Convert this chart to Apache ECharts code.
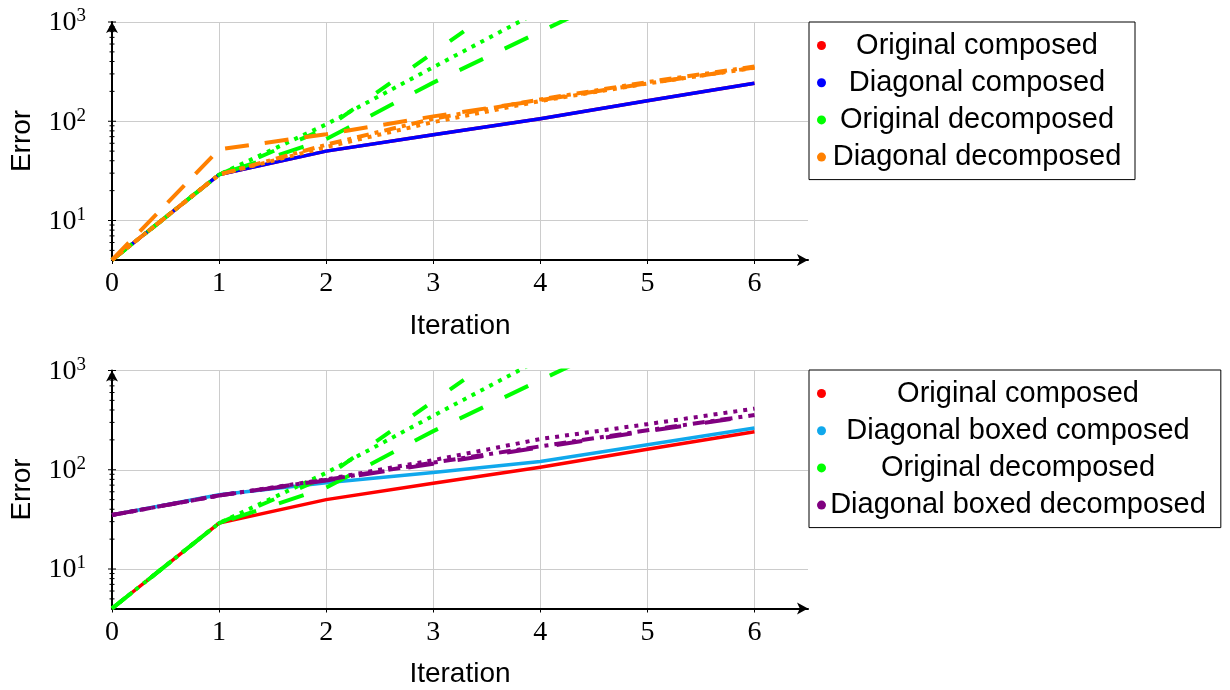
<!DOCTYPE html>
<html>
<head>
<meta charset="utf-8">
<script src="https://cdn.jsdelivr.net/npm/echarts@6/dist/echarts.min.js"></script>
<style>
  html, body { margin: 0; padding: 0; background: #fff; }
  #chart { width: 1230px; height: 690px; }
</style>
</head>
<body>
<div id="chart"></div>
<script>
// Iterations and tick values
const iterations = [0, 1, 2, 3, 4, 5, 6];
const xTickValues = [0, 1, 2, 3, 4, 5, 6];
const majorErrorTicks = [10, 100, 1000];
const minorErrorTicks = [5, 6, 7, 8, 9, 20, 30, 40, 50, 60, 70, 80, 90, 200, 300, 400, 500, 600, 700, 800, 900];

// Error per iteration
const originalComposed = [4, 29, 50, 73, 106, 161, 242];
const diagonalComposed = [4, 29, 50, 73, 106, 161, 242];
const originalDecomposedDashed = [4, 29, 85, 490, 2800];
const originalDecomposedDotted = [4, 29, 93, 350, 1300];
const originalDecomposedLongDashed = [4, 29, 66, 245, 800, 2600];
const diagonalDecomposedLongDashed = [4, 52, 74, 112, 163, 241, 347];
const diagonalDecomposedDotted = [4, 29, 55, 98, 160, 240, 345];
const diagonalDecomposedDashDot = [4, 29, 58, 106, 166, 248, 356];
const diagonalBoxedComposed = [35, 56, 74, 94, 121, 179, 264];
const diagonalBoxedDecomposedDotted = [35, 55, 80, 125, 204, 288, 413];
const diagonalBoxedDecomposedLongDashed = [35, 55, 78, 115, 168, 245, 351];
const diagonalBoxedDecomposedDashDot = [35, 55, 79, 118, 172, 250, 356];

const COLORS = {
  red: '#ff0000',
  blue: '#0000ff',
  green: '#00ff00',
  orange: '#ff8000',
  sky: '#10a8ec',
  purple: '#800080'
};

const DOTTED = [4, 6];
const LONG_DASH = [26, 24];
const LOOSE_DASH = [17, 28];
const ORANGE_DASH = [24, 16];
const DASH_DOT = [12, 6, 4, 6];

function pairs(values) {
  return values.map((v, i) => [iterations[i], v]);
}

function lineSeries(name, values, color, dash, width, gridIdx) {
  return {
    type: 'line',
    name: name,
    xAxisIndex: gridIdx,
    yAxisIndex: gridIdx,
    data: pairs(values),
    symbol: 'none',
    clip: true,
    itemStyle: { color: color },
    lineStyle: { color: color, width: width, type: dash || 'solid', cap: 'butt', join: 'miter' },
    emphasis: { disabled: true }
  };
}

function tickSeries(gridIdx) {
  const data = minorErrorTicks.map(v => [0, v, 0]).concat(majorErrorTicks.map(v => [0, v, 1]));
  return {
    type: 'custom',
    xAxisIndex: gridIdx,
    yAxisIndex: gridIdx,
    silent: true,
    z: 6,
    data: data,
    renderItem: function (params, api) {
      const p = api.coord([0, api.value(1)]);
      const h = api.value(2) ? 4 : 2.5;
      return {
        type: 'line',
        shape: { x1: p[0] - h, y1: p[1], x2: p[0] + h, y2: p[1] },
        style: { stroke: '#000', lineWidth: 1 }
      };
    }
  };
}

const GRID_COLOR = '#cccccc';

function xAxisCfg(gridIdx) {
  return {
    type: 'value',
    gridIndex: gridIdx,
    min: 0,
    max: 6.5,
    interval: 1,
    name: 'Iteration',
    nameLocation: 'middle',
    nameGap: 52,
    nameTextStyle: { fontFamily: 'Liberation Sans', fontSize: 28, color: '#000', lineHeight: 28 },
    axisLine: {
      show: true, onZero: false,
      lineStyle: { color: '#000', width: 2 },
      symbol: ['none', 'arrow'], symbolSize: [9, 11]
    },
    axisTick: { show: true, length: 4, customValues: xTickValues, lineStyle: { color: '#000', width: 1 } },
    axisLabel: {
      customValues: xTickValues,
      fontFamily: 'Liberation Serif', fontSize: 28, color: '#000', margin: 10
    },
    splitLine: { show: true, lineStyle: { color: GRID_COLOR, width: 1 } }
  };
}

function yAxisCfg(gridIdx) {
  return {
    type: 'log',
    logBase: 10,
    gridIndex: gridIdx,
    min: 4,
    max: 1000,
    name: 'Error',
    nameLocation: 'middle',
    nameRotate: 90,
    nameGap: 76,
    nameTextStyle: { fontFamily: 'Liberation Sans', fontSize: 28, color: '#000' },
    axisLine: {
      show: true, onZero: false,
      lineStyle: { color: '#000', width: 2 },
      symbol: ['none', 'arrow'], symbolSize: [9, 11]
    },
    axisTick: { show: false },
    axisLabel: {
      margin: 26,
      formatter: function (v) {
        const lg = Math.log10(v);
        const e = Math.round(lg);
        if (Math.abs(lg - e) > 1e-6) return '';
        return '{b|10}{s|' + e + '}';
      },
      rich: {
        b: { fontFamily: 'Liberation Serif', fontSize: 28, color: '#000', lineHeight: 30, verticalAlign: 'bottom' },
        s: { fontFamily: 'Liberation Serif', fontSize: 19, color: '#000', lineHeight: 18, verticalAlign: 'top' }
      }
    },
    splitLine: { show: true, lineStyle: { color: GRID_COLOR, width: 1 } }
  };
}

function legendCfg(top, textWidth, padRight, names) {
  return {
    orient: 'vertical',
    left: 809,
    top: top,
    icon: 'circle',
    itemWidth: 9,
    itemHeight: 9,
    itemGap: 8.2,
    padding: [9, padRight, 8, 8],
    borderColor: '#000',
    borderWidth: 1,
    borderRadius: 0,
    selectedMode: false,
    itemStyle: { borderWidth: 0 },
    data: names.map(n => ({ name: n.name, itemStyle: { color: n.color } })),
    formatter: function (name) { return '{t|' + name + '}'; },
    textStyle: {
      rich: {
        t: { width: textWidth, align: 'center', fontFamily: 'Liberation Sans', fontSize: 29, lineHeight: 30, color: '#000' }
      }
    }
  };
}

const series = [
  // upper panel
  lineSeries('Original composed', originalComposed, COLORS.red, 'solid', 3.5, 0),
  lineSeries('Diagonal composed', diagonalComposed, COLORS.blue, 'solid', 3.5, 0),
  lineSeries('Original decomposed', originalDecomposedLongDashed, COLORS.green, LONG_DASH, 4, 0),
  lineSeries('Original decomposed', originalDecomposedDotted, COLORS.green, DOTTED, 4, 0),
  lineSeries('Original decomposed', originalDecomposedDashed, COLORS.green, LOOSE_DASH, 4, 0),
  lineSeries('Diagonal decomposed', diagonalDecomposedDashDot, COLORS.orange, DASH_DOT, 4, 0),
  lineSeries('Diagonal decomposed', diagonalDecomposedDotted, COLORS.orange, DOTTED, 4, 0),
  lineSeries('Diagonal decomposed', diagonalDecomposedLongDashed, COLORS.orange, ORANGE_DASH, 4, 0),
  tickSeries(0),
  // lower panel
  lineSeries('Original composed', originalComposed, COLORS.red, 'solid', 3.5, 1),
  lineSeries('Diagonal boxed composed', diagonalBoxedComposed, COLORS.sky, 'solid', 3.5, 1),
  lineSeries('Original decomposed', originalDecomposedLongDashed, COLORS.green, LONG_DASH, 4, 1),
  lineSeries('Original decomposed', originalDecomposedDotted, COLORS.green, DOTTED, 4, 1),
  lineSeries('Original decomposed', originalDecomposedDashed, COLORS.green, LOOSE_DASH, 4, 1),
  lineSeries('Diagonal boxed decomposed', diagonalBoxedDecomposedDashDot, COLORS.purple, DASH_DOT, 4, 1),
  lineSeries('Diagonal boxed decomposed', diagonalBoxedDecomposedLongDashed, COLORS.purple, LONG_DASH, 4, 1),
  lineSeries('Diagonal boxed decomposed', diagonalBoxedDecomposedDotted, COLORS.purple, DOTTED, 4, 1),
  tickSeries(1)
];

const chart = echarts.init(document.getElementById('chart'), null, { renderer: 'canvas' });
chart.setOption({
  animation: false,
  backgroundColor: '#fff',
  grid: [
    { left: 110, top: 22, width: 698, height: 238, containLabel: false },
    { left: 110, top: 370.5, width: 698, height: 238, containLabel: false }
  ],
  xAxis: [xAxisCfg(0), xAxisCfg(1)],
  yAxis: [yAxisCfg(0), yAxisCfg(1)],
  legend: [
    legendCfg(22, 292, 12, [
      { name: 'Original composed', color: COLORS.red },
      { name: 'Diagonal composed', color: COLORS.blue },
      { name: 'Original decomposed', color: COLORS.green },
      { name: 'Diagonal decomposed', color: COLORS.orange }
    ]),
    legendCfg(370, 374, 15, [
      { name: 'Original composed', color: COLORS.red },
      { name: 'Diagonal boxed composed', color: COLORS.sky },
      { name: 'Original decomposed', color: COLORS.green },
      { name: 'Diagonal boxed decomposed', color: COLORS.purple }
    ])
  ],
  series: series
});
</script>
</body>
</html>
